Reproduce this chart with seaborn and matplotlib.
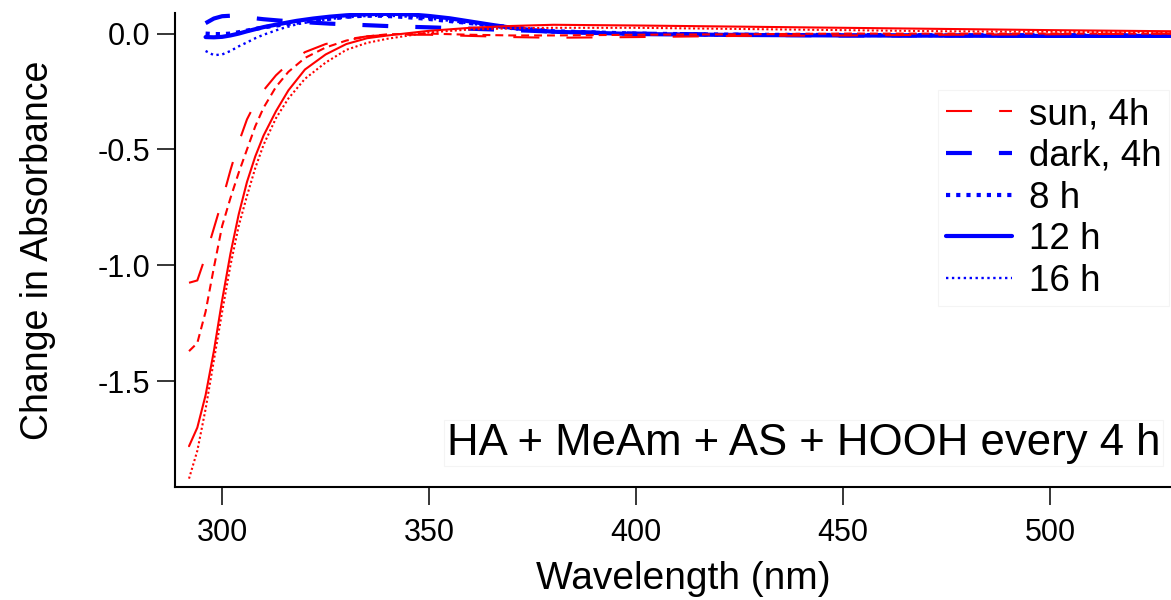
import numpy as np
import pandas as pd
import seaborn as sns
import matplotlib
matplotlib.use('Agg')
import matplotlib.pyplot as plt

# wavelength grids (nm)
wl_sun = [292, 294, 296, 298, 300, 302, 304, 306, 308, 310, 313, 316, 320, 325,
          330, 335, 340, 350, 360, 370, 380, 400, 425, 450, 475, 500, 530]
wl_dark = [296, 298, 300, 302, 304, 306, 308, 310, 314, 318, 322, 326, 330, 334,
           338, 342, 346, 350, 355, 360, 365, 370, 375, 380, 400, 425, 450, 475, 500, 530]

# red curves (sun)
sun_4h = [-1.075, -1.065, -0.96, -0.84, -0.72, -0.59, -0.47, -0.37, -0.30, -0.245, -0.18, -0.13, -0.08, -0.045,
          -0.025, -0.012, -0.005, -0.005, -0.01, -0.015, -0.018, -0.015, -0.01, -0.008, -0.005, -0.003, 0.0]
sun_8h = [-1.37, -1.335, -1.20, -1.01, -0.83, -0.71, -0.60, -0.50, -0.40, -0.32, -0.23, -0.165, -0.105, -0.06,
          -0.03, -0.012, -0.003, 0.0, -0.005, -0.008, -0.008, -0.005, -0.003, 0.0, 0.0, 0.0, 0.0]
sun_12h = [-1.78, -1.70, -1.56, -1.37, -1.15, -0.95, -0.78, -0.64, -0.53, -0.44, -0.335, -0.245, -0.155, -0.09,
           -0.045, -0.02, -0.008, 0.012, 0.025, 0.033, 0.038, 0.035, 0.03, 0.025, 0.02, 0.015, 0.01]
sun_16h = [-1.92, -1.80, -1.62, -1.41, -1.20, -1.00, -0.83, -0.70, -0.58, -0.48, -0.365, -0.28, -0.195, -0.125,
           -0.07, -0.04, -0.022, 0.005, 0.018, 0.023, 0.025, 0.025, 0.02, 0.015, 0.01, 0.008, 0.005]

# blue curves (dark)
dark_4h = [0.045, 0.065, 0.075, 0.077, 0.074, 0.07, 0.066, 0.062, 0.056, 0.052, 0.047, 0.043, 0.04, 0.037,
           0.034, 0.031, 0.029, 0.027, 0.024, 0.021, 0.018, 0.015, 0.012, 0.008, 0.0, -0.005, -0.008, -0.008, -0.008, -0.008]
dark_8h = [0.0, -0.002, -0.002, 0.0, 0.006, 0.013, 0.02, 0.027, 0.037, 0.047, 0.056, 0.064, 0.072, 0.077,
           0.077, 0.074, 0.069, 0.063, 0.054, 0.045, 0.036, 0.027, 0.018, 0.01, 0.0, -0.005, -0.006, -0.007, -0.007, -0.008]
dark_12h = [-0.015, -0.016, -0.014, -0.008, 0.0, 0.01, 0.019, 0.028, 0.042, 0.055, 0.065, 0.073, 0.079, 0.083,
            0.085, 0.085, 0.082, 0.076, 0.066, 0.052, 0.038, 0.025, 0.015, 0.008, -0.002, -0.006, -0.008, -0.009, -0.01, -0.01]
dark_16h = [-0.075, -0.093, -0.09, -0.075, -0.055, -0.038, -0.02, -0.005, 0.02, 0.04, 0.053, 0.063, 0.07, 0.075,
            0.077, 0.076, 0.072, 0.065, 0.055, 0.043, 0.031, 0.02, 0.012, 0.006, -0.003, -0.007, -0.009, -0.01, -0.01, -0.01]

y_ticks = [0.0, -0.5, -1.0, -1.5]
y_ticklabels = ['0.0', '-0.5', '-1.0', '-1.5']
x_ticks = [300, 350, 400, 450, 500]

frames = []
for name, wl, vals in [('sun 4h', wl_sun, sun_4h), ('sun 8h', wl_sun, sun_8h),
                       ('sun 12h', wl_sun, sun_12h), ('sun 16h', wl_sun, sun_16h),
                       ('dark 4h', wl_dark, dark_4h), ('dark 8h', wl_dark, dark_8h),
                       ('dark 12h', wl_dark, dark_12h), ('dark 16h', wl_dark, dark_16h)]:
    frames.append(pd.DataFrame({'wavelength': wl, 'absorbance': vals, 'series': name}))
df = pd.concat(frames, ignore_index=True)

# (colour, linewidth, linestyle)
styles = {
    'dark 4h': ('#0000ff', 3.0, (0, (6.2, 6.5))),
    'dark 8h': ('#0000ff', 3.0, (0, (1.0, 1.45))),
    'dark 12h': ('#0000ff', 3.0, '-'),
    'dark 16h': ('#0000ff', 1.7, (0, (1.0, 1.5))),
    'sun 4h': ('#ff0000', 1.5, (0, (12.5, 13))),
    'sun 8h': ('#ff0000', 1.5, (0, (3.8, 2.4))),
    'sun 12h': ('#ff0000', 1.5, '-'),
    'sun 16h': ('#ff0000', 1.5, (0, (1.0, 1.2))),
}
draw_order = ['dark 4h', 'dark 8h', 'dark 12h', 'dark 16h',
              'sun 4h', 'sun 8h', 'sun 12h', 'sun 16h']

sns.set_theme(style='ticks')
plt.rcParams['font.family'] = ['Liberation Sans', 'DejaVu Sans']
plt.rcParams['axes.unicode_minus'] = False
plt.rcParams['text.color'] = 'black'
plt.rcParams['axes.labelcolor'] = 'black'

fig = plt.figure(figsize=(11.71, 6.0), dpi=100)
ax = fig.add_axes([0.1494, 0.188, 1.0 - 0.1494, 0.978 - 0.188])

handles = {}
for name in draw_order:
    color, lw, ls = styles[name]
    sns.lineplot(data=df[df['series'] == name], x='wavelength', y='absorbance',
                 ax=ax, color=color, linewidth=lw, linestyle=ls,
                 estimator=None, sort=True)
    handles[name] = ax.lines[-1]

ax.set_xlim(288.6, 529.2)
ax.set_ylim(-1.957, 0.088)
ax.set_xticks(x_ticks)
ax.set_yticks(y_ticks)
ax.set_yticklabels(y_ticklabels)
ax.tick_params(axis='both', direction='out', length=13, width=1.1, labelsize=22,
               colors='black')
ax.tick_params(axis='x', pad=9)
ax.tick_params(axis='y', pad=5)
sns.despine(ax=ax)
for side in ['left', 'bottom']:
    ax.spines[side].set_linewidth(1.5)
    ax.spines[side].set_color('black')

ax.set_xlabel('Wavelength (nm)', fontsize=28, labelpad=6)
ax.xaxis.set_label_coords(0.51, -0.155)
ax.set_ylabel('Change in Absorbance', fontsize=27, labelpad=30)

leg = ax.legend([handles['sun 4h'], handles['dark 4h'], handles['dark 8h'],
                 handles['dark 12h'], handles['dark 16h']],
                ['sun, 4h', 'dark, 4h', '8 h', '12 h', '16 h'],
                loc='upper right', bbox_to_anchor=(1.016, 0.877),
                fontsize=26.5, handlelength=1.8, handletextpad=0.45,
                labelspacing=0.18, borderpad=0.2, frameon=True, fancybox=False)
leg.get_frame().set_edgecolor('#f2f2f2')
leg.get_frame().set_linewidth(0.8)

ax.text(0.989, 0.093, 'HA + MeAm + AS + HOOH every 4 h', transform=ax.transAxes,
        ha='right', va='center', fontsize=31.5,
        bbox=dict(facecolor='white', edgecolor='#f4f4f4', linewidth=0.8, pad=2))

fig.savefig('out.png', dpi=100)
